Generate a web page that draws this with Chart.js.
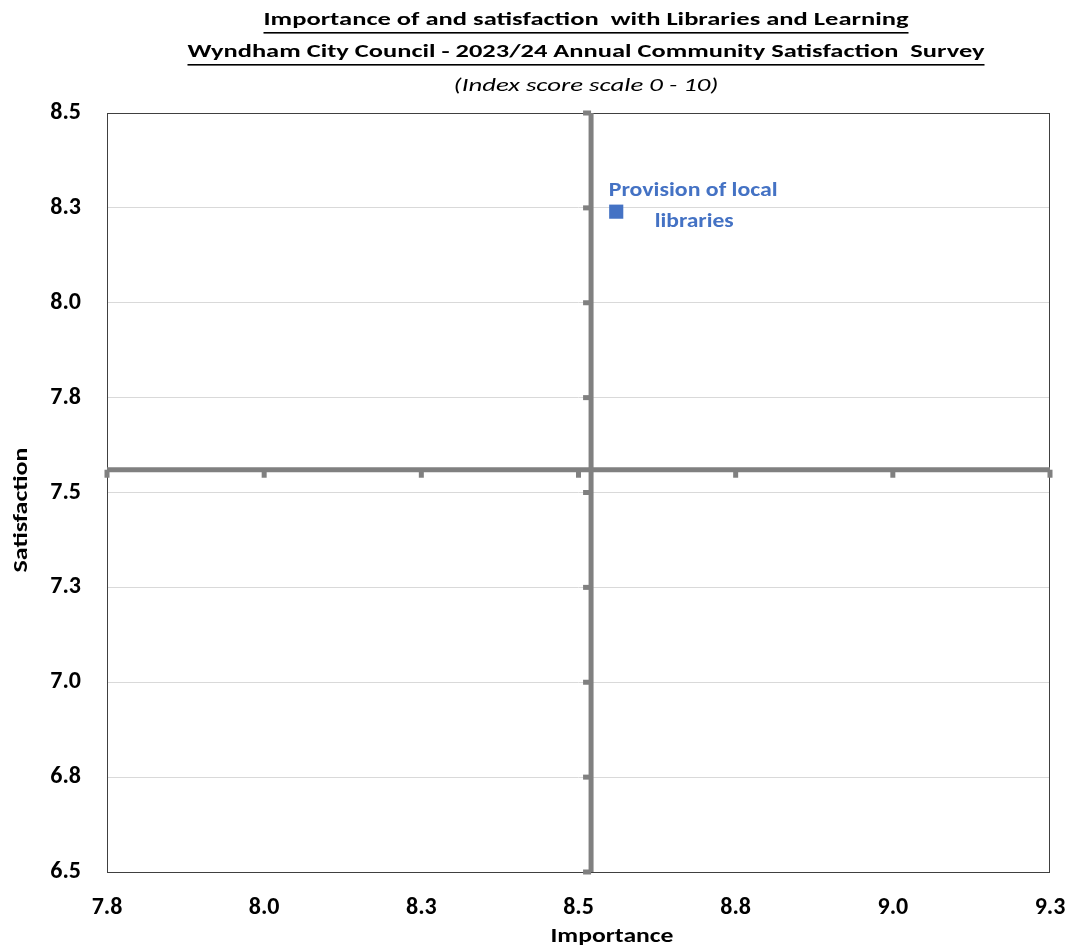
<!DOCTYPE html>
<html>
<head>
<meta charset="utf-8">
<script src="https://cdn.jsdelivr.net/npm/chart.js@4.4.1/dist/chart.umd.min.js"></script>
<style>
  html, body { margin: 0; padding: 0; background: #ffffff; }
  #wrap { width: 1068px; height: 950px; }
</style>
</head>
<body>
<div id="wrap"><canvas id="c" width="1068" height="950"></canvas></div>
<script>
// ---- Data ----
const titleLines = [
  'Importance of and satisfaction  with Libraries and Learning',
  'Wyndham City Council - 2023/24 Annual Community Satisfaction  Survey'
];
const subtitle = '(Index score scale 0 - 10)';
const xAxisTitle = 'Importance';
const yAxisTitle = 'Satisfaction';

const serviceNames = [['Provision of local', 'libraries']];
const importance = [8.56];
const satisfaction = [8.24];

const averageImportance = 8.52;
const averageSatisfaction = 7.56;

const xTickValues = [7.75, 8.0, 8.25, 8.5, 8.75, 9.0, 9.25];
const xTickLabels = ['7.8', '8.0', '8.3', '8.5', '8.8', '9.0', '9.3'];
const yTickValues = [6.5, 6.75, 7.0, 7.25, 7.5, 7.75, 8.0, 8.25, 8.5];
const yTickLabels = ['6.5', '6.8', '7.0', '7.3', '7.5', '7.8', '8.0', '8.3', '8.5'];

// ---- Styling ----
const FONT = 'Carlito, Calibri, Lato, sans-serif';
const BLUE = '#4472C4';
const CROSS = '#808080';

const points = importance.map((x, i) => ({ x: x, y: satisfaction[i] }));
const xMin = xTickValues[0], xMax = xTickValues[xTickValues.length - 1];
const yMin = yTickValues[0], yMax = yTickValues[yTickValues.length - 1];

// draw text centred at (cx, cy), stretched horizontally to a given width
function fitText(ctx, text, cx, cy, font, width, underline) {
  ctx.save();
  ctx.font = font;
  ctx.textAlign = 'center';
  ctx.textBaseline = 'middle';
  const w = ctx.measureText(text).width;
  const k = width / w;
  ctx.translate(cx, cy);
  ctx.scale(k, 1);
  ctx.fillText(text, 0, 0);
  if (underline) ctx.fillRect(-w / 2, underline, w, 1.6);
  ctx.restore();
}

const decorPlugin = {
  id: 'decor',
  beforeDatasetsDraw(chart) {
    const ctx = chart.ctx;
    const a = chart.chartArea;
    const xs = chart.scales.x, ys = chart.scales.y;
    ctx.save();
    ctx.strokeStyle = '#404040';
    ctx.lineWidth = 1;
    ctx.strokeRect(a.left + 0.5, a.top + 0.5, a.right - a.left - 1, a.bottom - a.top);
    ctx.fillStyle = CROSS;
    const hy = ys.getPixelForValue(averageSatisfaction);
    xTickValues.forEach(v => {
      const px = xs.getPixelForValue(v);
      ctx.fillRect(px - 2.5, hy, 5, 8);
    });
    const vx = xs.getPixelForValue(averageImportance);
    yTickValues.forEach(v => {
      const py = ys.getPixelForValue(v);
      ctx.fillRect(vx - 8, py - 2.5, 8, 5);
    });
    ctx.restore();
  },
  afterDraw(chart) {
    const ctx = chart.ctx;
    const xs = chart.scales.x, ys = chart.scales.y;
    ctx.save();
    ctx.fillStyle = '#000000';
    const cx = 586;
    fitText(ctx, titleLines[0], cx, 20, 'bold 19px ' + FONT, 645, 12);
    fitText(ctx, titleLines[1], cx, 52, 'bold 19px ' + FONT, 797, 12);
    fitText(ctx, subtitle, cx, 86, 'italic 19px ' + FONT, 265, 0);
    fitText(ctx, xAxisTitle, 612, 937, 'bold 21px ' + FONT, 123, 0);
    ctx.save();
    ctx.translate(22, 510);
    ctx.rotate(-Math.PI / 2);
    fitText(ctx, yAxisTitle, 0, 0, 'bold 21px ' + FONT, 125, 0);
    ctx.restore();
    ctx.fillStyle = BLUE;
    points.forEach((p, i) => {
      const px = xs.getPixelForValue(p.x);
      const py = ys.getPixelForValue(p.y);
      const lines = serviceNames[i];
      fitText(ctx, lines[0], px + 77, py - 21, 'bold 20px ' + FONT, 169, 0);
      fitText(ctx, lines[1], px + 78, py + 10, 'bold 20px ' + FONT, 79, 0);
    });
    ctx.restore();
  }
};

new Chart(document.getElementById('c'), {
  type: 'scatter',
  data: {
    datasets: [
      {
        label: 'Services',
        data: points,
        pointStyle: 'rect',
        pointRadius: 10,
        pointHoverRadius: 10,
        backgroundColor: BLUE,
        borderWidth: 0,
        order: 0
      },
      {
        label: 'Average satisfaction',
        type: 'line',
        data: [{ x: xMin, y: averageSatisfaction }, { x: xMax, y: averageSatisfaction }],
        borderColor: CROSS,
        borderWidth: 5,
        pointRadius: 0,
        borderCapStyle: 'butt',
        order: 1
      },
      {
        label: 'Average importance',
        type: 'line',
        data: [{ x: averageImportance, y: yMin }, { x: averageImportance, y: yMax }],
        borderColor: CROSS,
        borderWidth: 5,
        pointRadius: 0,
        borderCapStyle: 'butt',
        order: 1
      }
    ]
  },
  plugins: [decorPlugin],
  options: {
    responsive: false,
    devicePixelRatio: 1,
    animation: false,
    layout: { padding: { top: 113, right: 18, bottom: 0, left: 0 } },
    plugins: {
      legend: { display: false },
      title: { display: false },
      tooltip: { enabled: false }
    },
    scales: {
      x: {
        type: 'linear',
        min: xMin,
        max: xMax,
        afterBuildTicks: s => { s.ticks = xTickValues.map(v => ({ value: v })); },
        ticks: {
          callback: (v, i) => xTickLabels[i],
          font: { family: FONT, size: 24, weight: 'bold' },
          color: '#000000',
          padding: 22,
          maxRotation: 0,
          autoSkip: false
        },
        grid: { display: false, drawTicks: false },
        border: { display: false },
        afterFit: s => { s.height = 78; s.paddingLeft = 0; s.paddingRight = 0; }
      },
      y: {
        type: 'linear',
        min: yMin,
        max: yMax,
        afterBuildTicks: s => { s.ticks = yTickValues.map(v => ({ value: v })); },
        ticks: {
          callback: (v, i) => yTickLabels[i],
          font: { family: FONT, size: 24, weight: 'bold' },
          color: '#000000',
          padding: 26,
          autoSkip: false
        },
        grid: { color: '#d9d9d9', lineWidth: 1, drawTicks: false },
        border: { display: false },
        afterFit: s => { s.width = 107; s.paddingTop = 0; s.paddingBottom = 0; }
      }
    }
  }
});
</script>
</body>
</html>
